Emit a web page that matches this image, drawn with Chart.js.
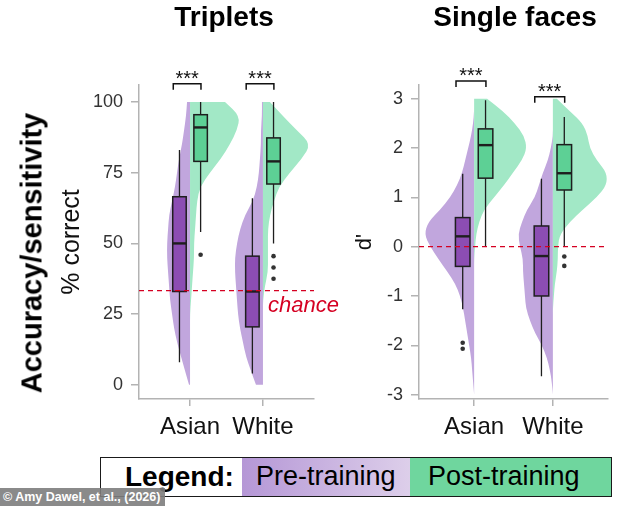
<!DOCTYPE html>
<html>
<head>
<meta charset="utf-8">
<script src="https://cdn.jsdelivr.net/npm/chart.js@4.4.1/dist/chart.umd.min.js"></script>
<style>
  html, body { margin: 0; padding: 0; background: #fff; }
  body { width: 634px; height: 506px; position: relative; overflow: hidden; font-family: "Liberation Sans", Arial, sans-serif; }
  canvas { position: absolute; top: 0; }
  .txt { position: absolute; white-space: nowrap; color: #000; }
  .title { font-weight: bold; font-size: 28px; line-height: 28px; width: 300px; text-align: center; top: 3px; }
  #ytitle { left: 32px; top: 253px; font-weight: bold; font-size: 29px; line-height: 29px; transform: translate(-50%, -50%) rotate(-90deg); }
  #legend { position: absolute; left: 100px; top: 457px; width: 512px; height: 40px; box-sizing: border-box; border: 1.5px solid #1a1a1a; }
  #legend div { position: absolute; top: 0; height: 100%; line-height: 37px; font-size: 27px; white-space: nowrap; }
  #credit { position: absolute; left: 0; top: 488px; width: 165px; height: 18px; background: rgba(125,125,125,0.9); color: #fff; font: bold 12.5px "Liberation Sans", Arial, sans-serif; line-height: 18px; padding-left: 3px; box-sizing: border-box; white-space: nowrap; overflow: hidden; }
</style>
</head>
<body>
<canvas id="triplets" width="345" height="440" style="left:0"></canvas>
<canvas id="faces" width="289" height="440" style="left:345px"></canvas>

<div class="txt title" style="left:74px">Triplets</div>
<div class="txt title" style="left:365px">Single faces</div>
<div class="txt" id="ytitle">Accuracy/sensitivity</div>

<div id="legend">
  <div style="left:24px;font-weight:bold;font-size:28px">Legend:</div>
  <div style="left:141px;width:169px;padding-left:14px;box-sizing:border-box;background:linear-gradient(90deg,#b597d6,#ddcfea)">Pre-training</div>
  <div style="left:309px;width:201px;padding-left:18px;box-sizing:border-box;background:#6fd69e">Post-training</div>
</div>
<div id="credit">© Amy Dawel, et al., (2026)</div>

<script>
const categories = ['Asian', 'White']

// ---- Triplets (% correct) ----
const tripletTicks = [0, 25, 50, 75, 100]
const tripletChance = 33.3
// box stats per category: [lower whisker, q1, median, q3, upper whisker]
const tripletPreBox = [[8, 33, 50, 66.5, 83], [4, 20.5, 33, 45.5, 66]]
const tripletPostBox = [[54, 79, 91, 95.5, 100], [50, 71, 79, 87.3, 100]]
const tripletPreOutliers = [[], []]
const tripletPostOutliers = [[46], [45.5, 41.5, 37.5]]
// violin densities (relative half widths) read at each level
const tripletLevels = [0, 5, 10, 15, 20, 25, 30, 35, 40, 45, 50, 55, 60, 65, 70, 75, 80, 85, 90, 95, 100]
const tripletPreDensity = [
  [1, 5, 9, 13, 16, 18, 20, 21, 22, 23, 23, 22, 21, 18, 15, 13, 11, 8, 6, 4, 3],
  [7, 12, 17, 20, 23, 25, 26, 27, 28, 28, 26, 23, 18, 10, 6, 4, 3, 2, 2, 1, 1]
]
const tripletPostDensity = [
  [0, 0, 0, 0, 0, 0, 1, 2, 3, 4, 4, 5, 6, 7, 10, 20, 31, 40, 47, 50, 35],
  [0, 0, 0, 0, 0, 0, 0, 2, 5, 5, 5, 5, 7, 11, 16, 27, 39, 48, 34, 20, 7]
]
const tripletSigY = [106.4, 106.4]

// ---- Single faces (d') ----
const faceTicks = [-3, -2, -1, 0, 1, 2, 3]
const faceChance = 0
const facePreBox = [[-1.27, -0.4, 0.21, 0.59, 1.48], [-2.63, -1.0, -0.19, 0.42, 1.38]]
const facePostBox = [[0, 1.39, 2.06, 2.39, 2.97], [0, 1.15, 1.49, 2.07, 2.63]]
const facePreOutliers = [[-1.95, -2.07], []]
const facePostOutliers = [[], [-0.2, -0.39]]
const faceLevels = [-3, -2.75, -2.5, -2.25, -2, -1.75, -1.5, -1.25, -1, -0.75, -0.5, -0.25, 0,
  0.25, 0.5, 0.75, 1, 1.25, 1.5, 1.75, 2, 2.25, 2.5, 2.75, 3]
const facePreDensity = [
  [0, 1, 2, 3, 5, 7, 9, 11, 14, 19, 27, 36, 44, 50, 46, 34, 24, 17, 12, 9, 6, 3, 1, 0, 0],
  [0, 1, 3, 6, 11, 18, 23, 27, 28, 29, 30, 30, 33, 35, 31, 26, 18, 14, 10, 5, 2, 0, 0, 0, 0]
]
const facePostDensity = [
  [0, 0, 0, 0, 0, 0, 0, 0, 0, 0, 0, 0, 1, 2, 5, 10, 20, 30, 39, 48, 53, 50, 41, 29, 13],
  [0, 0, 0, 0, 0, 0, 0, 0, 1, 2, 4, 5, 5, 7, 17, 30, 44, 54, 54, 44, 37, 35, 30, 17, 4]
]
const faceSigY = [3.36, 3.04]

const PRE_VIOLIN = '#c1a6dd'
const POST_VIOLIN = '#a2e8c6'
const PRE_BOX = '#8c4db3'
const POST_BOX = '#5dd095'
const RED = '#d50022'
const AXIS = '#b3b3b3'
const FONT = '"Liberation Sans", Arial, sans-serif'

const BOX_OFFSET = 0.145
const BOX_WIDTH = 0.185

// half violin, edge smoothed with quadratic curves through the midpoints
const drawViolin = (ctx, xs, ys, center, levels, density, side, k, color) => {
  const pts = levels.map((lv, i) => [xs.getPixelForValue(center + side * density[i] * k), ys.getPixelForValue(lv)])
  const n = pts.length
  ctx.beginPath()
  ctx.moveTo(xs.getPixelForValue(center), pts[0][1])
  ctx.lineTo(pts[0][0], pts[0][1])
  for (let i = 1; i < n - 1; i++) {
    const mx = (pts[i][0] + pts[i + 1][0]) / 2
    const my = (pts[i][1] + pts[i + 1][1]) / 2
    ctx.quadraticCurveTo(pts[i][0], pts[i][1], mx, my)
  }
  ctx.lineTo(pts[n - 1][0], pts[n - 1][1])
  ctx.lineTo(xs.getPixelForValue(center), pts[n - 1][1])
  ctx.closePath()
  ctx.fillStyle = color
  ctx.fill()
}

const drawBox = (ctx, xs, ys, cx, stats, color) => {
  const [lo, q1, med, q3, hi] = stats
  const x0 = xs.getPixelForValue(cx - BOX_WIDTH / 2)
  const x1 = xs.getPixelForValue(cx + BOX_WIDTH / 2)
  const xm = xs.getPixelForValue(cx)
  ctx.strokeStyle = '#1e1e1e'
  ctx.lineWidth = 1.3
  ctx.beginPath()
  ctx.moveTo(xm, ys.getPixelForValue(hi)); ctx.lineTo(xm, ys.getPixelForValue(q3))
  ctx.moveTo(xm, ys.getPixelForValue(q1)); ctx.lineTo(xm, ys.getPixelForValue(lo))
  ctx.stroke()
  const yq3 = ys.getPixelForValue(q3)
  const yq1 = ys.getPixelForValue(q1)
  ctx.fillStyle = color
  ctx.fillRect(x0, yq3, x1 - x0, yq1 - yq3)
  ctx.lineWidth = 1.5
  ctx.strokeRect(x0, yq3, x1 - x0, yq1 - yq3)
  ctx.lineWidth = 2.4
  ctx.beginPath()
  ctx.moveTo(x0, ys.getPixelForValue(med)); ctx.lineTo(x1, ys.getPixelForValue(med))
  ctx.stroke()
}

const makePlugin = (p) => ({
  id: 'raincloud',
  beforeDatasetsDraw(chart) {
    const { ctx, scales: { x, y } } = chart
    ctx.save()
    categories.forEach((c, i) => {
      drawViolin(ctx, x, y, i + 1, p.levels, p.preDensity[i], -1, p.k, PRE_VIOLIN)
      drawViolin(ctx, x, y, i + 1, p.levels, p.postDensity[i], 1, p.k, POST_VIOLIN)
    })
    categories.forEach((c, i) => {
      drawBox(ctx, x, y, i + 1 - BOX_OFFSET, p.preBox[i], PRE_BOX)
      drawBox(ctx, x, y, i + 1 + BOX_OFFSET, p.postBox[i], POST_BOX)
    })
    ctx.restore()
  },
  afterDraw(chart) {
    const { ctx, scales: { x, y } } = chart
    ctx.save()
    ctx.strokeStyle = '#111'
    ctx.fillStyle = '#111'
    ctx.lineWidth = 1.5
    p.sigY.forEach((sy, i) => {
      const xa = x.getPixelForValue(i + 1 - 0.23)
      const xb = x.getPixelForValue(i + 1 + 0.15)
      const yt = y.getPixelForValue(sy)
      ctx.beginPath()
      ctx.moveTo(xa, yt + 6); ctx.lineTo(xa, yt); ctx.lineTo(xb, yt); ctx.lineTo(xb, yt + 6)
      ctx.stroke()
      ctx.font = '20px ' + FONT
      ctx.textAlign = 'center'
      ctx.textBaseline = 'alphabetic'
      ctx.fillText('***', (xa + xb) / 2, yt + 1)
    })
    if (p.chanceLabel) {
      ctx.fillStyle = RED
      ctx.font = 'italic 22px ' + FONT
      ctx.textAlign = 'left'
      ctx.fillText('chance', x.getPixelForValue(p.chanceLabel[0]), y.getPixelForValue(p.chanceLabel[1]))
    }
    ctx.restore()
  }
})

const outlierPoints = (preOut, postOut) => {
  const pts = []
  preOut.forEach((vals, i) => vals.forEach(v => pts.push({ x: i + 1 - BOX_OFFSET, y: v })))
  postOut.forEach((vals, i) => vals.forEach(v => pts.push({ x: i + 1 + BOX_OFFSET, y: v })))
  return pts
}

const makePanel = (id, p) => {
  new Chart(document.getElementById(id), {
    type: 'scatter',
    data: {
      datasets: [
        {
          type: 'line',
          data: [{ x: 0.3, y: p.chance }, { x: 2.7, y: p.chance }],
          borderColor: RED,
          borderWidth: 1.3,
          borderDash: [5, 4],
          pointRadius: 0
        },
        {
          data: outlierPoints(p.preOut, p.postOut),
          pointRadius: 2.3,
          backgroundColor: '#333',
          borderWidth: 0
        }
      ]
    },
    options: {
      responsive: false,
      animation: false,
      layout: { padding: { left: p.padLeft, right: p.padRight, top: 85, bottom: 1 } },
      plugins: { legend: { display: false }, tooltip: { enabled: false } },
      scales: {
        x: {
          type: 'linear',
          min: 0.3,
          max: 2.7,
          afterBuildTicks: (s) => { s.ticks = categories.map((c, i) => ({ value: i + 1 })) },
          afterFit: (s) => { s.height = 40 },
          ticks: {
            callback: (v) => categories[v - 1],
            font: { family: FONT, size: 24 },
            color: '#111',
            padding: 7,
            maxRotation: 0
          },
          grid: { drawOnChartArea: false, tickLength: 7, color: AXIS, lineWidth: 1.5 },
          border: { color: AXIS, width: 1.5 }
        },
        y: {
          min: p.yMin,
          max: p.yMax,
          afterBuildTicks: (s) => { s.ticks = p.ticks.map(v => ({ value: v })) },
          afterFit: (s) => { s.width = p.axisWidth },
          ticks: { font: { family: FONT, size: 18 }, color: '#333', padding: 8 },
          grid: { drawOnChartArea: false, tickLength: 8, color: AXIS, lineWidth: 1.5 },
          border: { color: AXIS, width: 1.5 },
          title: {
            display: true,
            text: p.yTitle,
            font: { family: FONT, size: p.yTitleSize },
            color: '#111',
            padding: { top: 4, bottom: 4 }
          }
        }
      }
    },
    plugins: [makePlugin(p)]
  })
}

makePanel('triplets', {
  levels: tripletLevels, preDensity: tripletPreDensity, postDensity: tripletPostDensity,
  preBox: tripletPreBox, postBox: tripletPostBox,
  preOut: tripletPreOutliers, postOut: tripletPostOutliers,
  sigY: tripletSigY, chance: tripletChance, chanceLabel: [2.07, 25.8],
  ticks: tripletTicks, yMin: -5, yMax: 106, yTitle: '% correct', yTitleSize: 25,
  k: 1 / 73, padLeft: 53, padRight: 31, axisWidth: 86
})

makePanel('faces', {
  levels: faceLevels, preDensity: facePreDensity, postDensity: facePostDensity,
  preBox: facePreBox, postBox: facePostBox,
  preOut: facePreOutliers, postOut: facePostOutliers,
  sigY: faceSigY, chance: faceChance, chanceLabel: null,
  ticks: faceTicks, yMin: -3.09, yMax: 3.28, yTitle: "d'", yTitleSize: 22,
  k: 1 / 79, padLeft: 3, padRight: 26, axisWidth: 71
})
</script>
</body>
</html>
